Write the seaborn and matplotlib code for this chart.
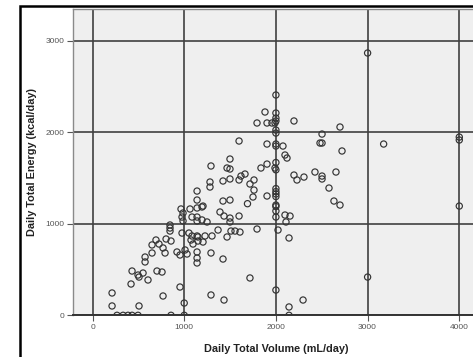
import matplotlib
matplotlib.use("Agg")
import matplotlib.pyplot as plt
import matplotlib.patches as mpatches
import seaborn as sns
import pandas as pd

# Daily total volume (mL/day) and energy (kcal/day)
volume = [
    267, 333, 387, 431, 496, 856, 1000, 2143,
    213, 213, 507, 769, 954, 1000, 420, 1292, 1434, 1717, 2000, 2143, 2296, 3000,
    1423, 1140, 1140, 1140,
    431, 496, 507, 551, 605, 703, 758, 573, 573, 649, 692, 649, 725, 769, 802, 856,
    791, 921, 954, 1009, 1031, 1292, 1074, 1096, 1150, 1150, 1205,
    845, 845, 845, 976, 1052, 1085, 1140, 1227, 1303, 1369, 1467, 1510, 1554, 1608,
    1794, 2023, 2143,
    976, 987, 1140, 1194, 1249, 1499, 1499, 1434, 1390, 1598, 1085, 1140,
    965, 1063, 1140, 1194, 1205, 987, 1140, 1140, 1423, 1499, 1690, 1717,
    1281, 1281, 1423, 1499, 1598, 1619, 1663, 1292, 1467, 1499, 1499, 1598,
    1761, 1761, 1750, 1903, 1837, 1903, 1881, 1794, 1903, 1957, 2197, 1903, 2077,
    2099, 2121, 2197, 2230, 2306, 2426, 2503, 2503, 2655, 2503, 2481, 2503, 2699,
    2721, 2579, 2633, 2699, 2099, 2154, 2110, 3175,
    2000, 2000, 2000, 2000, 1990, 2000, 2000, 2000, 2000, 2000, 1990, 2000,
    2000, 2000, 2000, 2000, 2000, 2000, 2000, 2000,
    3000, 4000, 4000, 4000,
]
energy = [
    0, 0, 0, 0, 0, 0, 0, 0,
    244, 102, 102, 211, 309, 134, 342, 222, 167, 408, 276, 91, 167, 418,
    615, 692, 626, 572,
    484, 440, 418, 462, 386, 484, 473, 637, 583, 681, 823, 769, 779, 736, 834, 812,
    681, 692, 659, 714, 670, 681, 823, 779, 856, 812, 801,
    987, 954, 921, 899, 899, 867, 867, 867, 867, 932, 856, 921, 921, 910,
    943, 932, 845,
    1074, 1031, 1031, 1042, 1020, 1020, 1063, 1085, 1129, 1085, 1074, 1074,
    1162, 1162, 1173, 1184, 1194, 1118, 1260, 1358, 1249, 1260, 1220, 1435,
    1457, 1402, 1468, 1490, 1479, 1522, 1544, 1632, 1610, 1599, 1708, 1905,
    1479, 1369, 1293, 1304, 1610, 1653, 2222, 2102, 2102, 2102, 2124, 1872, 1850,
    1752, 1719, 1533, 1479, 1511, 1566, 1522, 1490, 1566, 1981, 1883, 1883, 2058,
    1796, 1391, 1249, 1205, 1096, 1085, 1020, 1872,
    2408, 2211, 2156, 2124, 2102, 2025, 1992, 1872, 1850, 1670, 1610, 1590,
    1385, 1352, 1326, 1298, 1205, 1189, 1140, 1074,
    2867, 1948, 1916, 1194,
]

x_ticks = [0, 1000, 2000, 3000, 4000]
y_ticks = [0, 1000, 2000, 3000]

df = pd.DataFrame({"Daily Total Volume (mL/day)": volume,
                   "Daily Total Energy (kcal/day)": energy})

sns.set_style("white")
plt.rcParams["font.family"] = ["Liberation Sans", "DejaVu Sans"]

fig = plt.figure(figsize=(4.73, 3.57), dpi=100)
fig.patch.set_facecolor("white")
ax = fig.add_axes([73 / 473, 1 - 315.3 / 357, (479 - 73) / 473, (315.3 - 9) / 357])
ax.set_facecolor("#efefef")

sns.scatterplot(data=df, x="Daily Total Volume (mL/day)",
                y="Daily Total Energy (kcal/day)", ax=ax,
                marker="o", s=20, facecolors="none", edgecolor="#333333",
                linewidth=0.85, zorder=3)

ax.set_xlim(-213, 4215)
ax.set_ylim(0, 3348)
ax.set_xticks(x_ticks)
ax.set_yticks(y_ticks)
ax.grid(True, color="#404040", linewidth=1.2, zorder=1)
ax.set_axisbelow(True)
for side, sp in ax.spines.items():
    sp.set_color("#8a8a8a")
    sp.set_linewidth(1.0)
ax.spines["bottom"].set_color("#333333")
ax.spines["bottom"].set_linewidth(1.4)
ax.tick_params(axis="both", which="major", direction="out", length=4,
               width=0.8, color="#555555", labelsize=6, labelcolor="#555555",
               pad=2, bottom=True, left=True)

ax.set_xlabel("Daily Total Volume (mL/day)", fontsize=7.8, fontweight="bold",
              color="#222222")
ax.set_ylabel("Daily Total Energy (kcal/day)", fontsize=7.8, fontweight="bold",
              color="#222222")
ax.xaxis.set_label_coords(0.5, -0.095)
ax.yaxis.set_label_coords(-0.088, 0.5)

# outer chart frame
frame = mpatches.Rectangle((19.5 / 473, -0.2), 2.0, 1.2 - 6.5 / 357,
                           transform=fig.transFigure, fill=False,
                           edgecolor="black", linewidth=1.8, zorder=10)
fig.patches.append(frame)

fig.savefig("out.png", dpi=100)
